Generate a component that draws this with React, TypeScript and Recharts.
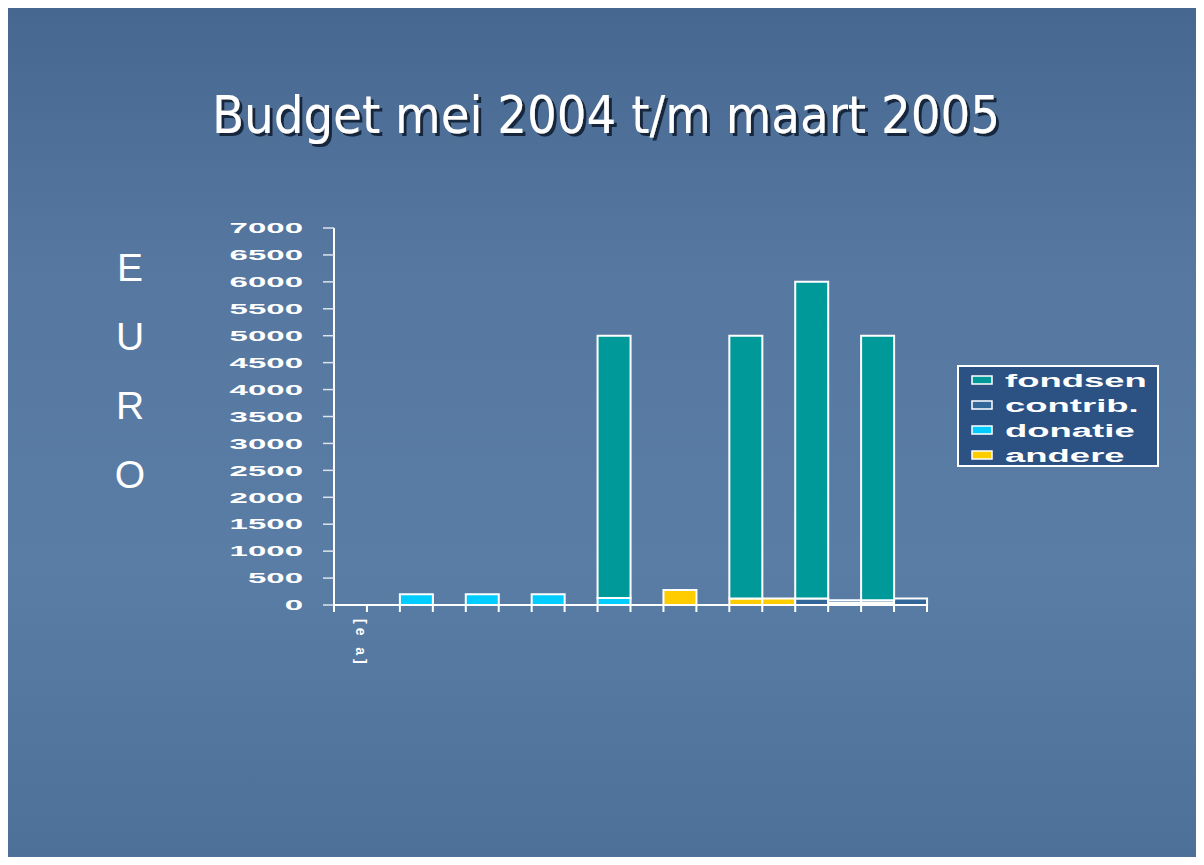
import { BarChart, Bar, XAxis, YAxis } from 'recharts';

// 18 slots along the x axis, only the first one carries a label
const slotLabels = ['[e a]', '', '', '', '', '', '', '', '', '', '', '', '', '', '', '', '', ''];
const fondsen = [0, 0, 0, 0, 0, 0, 0, 0, 4870, 0, 0, 0, 4880, 0, 5880, 0, 4910, 0];
const contrib = [0, 0, 0, 0, 0, 0, 0, 0, 0, 0, 0, 0, 0, 0, 120, 50, 50, 120];
const donatie = [0, 0, 200, 0, 200, 0, 200, 0, 130, 0, 0, 0, 0, 0, 0, 0, 0, 0];
const andere = [0, 0, 0, 0, 0, 0, 0, 0, 0, 0, 280, 0, 120, 120, 0, 40, 40, 0];
const yTicks = [0, 500, 1000, 1500, 2000, 2500, 3000, 3500, 4000, 4500, 5000, 5500, 6000, 6500, 7000];

const legendNames = ['fondsen', 'contrib.', 'donatie', 'andere'];
const legendColors = ['#009999', '#336699', '#00ccff', '#ffcc00'];

const data = slotLabels.map((label, i) => ({
  slot: i,
  label,
  fondsen: fondsen[i],
  contrib: contrib[i],
  donatie: donatie[i],
  andere: andere[i],
}));

const W = 1198;
const H = 859;
const margin = { top: 222, right: 277, bottom: 200, left: 0 };
const yAxisWidth = 328;
const band = (W - margin.left - margin.right - yAxisWidth) / slotLabels.length;

const boldFont = '"Liberation Sans", Arial, sans-serif';

function YTick(props: any) {
  const { x, y, payload } = props;
  return (
    <g transform={`translate(${x - 20},${y}) scale(2.2,1)`}>
      <text textAnchor="end" dominantBaseline="central" fill="#ffffff" fontFamily={boldFont} fontWeight="bold" fontSize={15}>
        {payload.value}
      </text>
    </g>
  );
}

function SlotTick(props: any) {
  const { x, y, payload, index } = props;
  const label = slotLabels[payload.value];
  const left = x - band / 2;
  return (
    <g>
      <line x1={left} y1={y} x2={left} y2={y + 7} stroke="#ffffff" strokeWidth={2} />
      {index === slotLabels.length - 1 && (
        <line x1={x + band / 2} y1={y} x2={x + band / 2} y2={y + 7} stroke="#ffffff" strokeWidth={2} />
      )}
      {label ? (
        <text
          transform={`translate(${x + 11},${y + 14}) rotate(90)`}
          fill="#ffffff"
          fontFamily={boldFont}
          fontWeight="bold"
          fontSize={14}
          letterSpacing={4}
          dominantBaseline="central"
        >
          {label}
        </text>
      ) : null}
    </g>
  );
}

export default function App() {
  return (
    <div
      style={{
        position: 'relative',
        width: W,
        height: H,
        margin: '-2px 0 -8px -2px',
        overflow: 'hidden',
        background: 'linear-gradient(180deg, #466890 0%, #5577a0 30%, #5a7da6 65%, #4d7099 100%)',
      }}
    >
      <div style={{ position: 'absolute', left: 0, top: 0 }}>
        <BarChart width={W} height={H} data={data} margin={margin} barCategoryGap={0}>
          <XAxis
            dataKey="slot"
            type="category"
            height={60}
            axisLine={{ stroke: '#ffffff', strokeWidth: 2 }}
            tickLine={false}
            tickSize={0}
            tickMargin={0}
            interval={0}
            tick={<SlotTick />}
          />
          <YAxis
            width={yAxisWidth}
            domain={[0, 7000]}
            ticks={yTicks}
            interval={0}
            axisLine={{ stroke: '#ffffff', strokeWidth: 2 }}
            tickLine={{ stroke: '#dde4ee', strokeWidth: 1.5 }}
            tickSize={11}
            tickMargin={0}
            tick={<YTick />}
          />
          <Bar dataKey="andere" stackId="a" fill="#ffcc00" stroke="#ffffff" strokeWidth={2} isAnimationActive={false} />
          <Bar dataKey="donatie" stackId="a" fill="#00ccff" stroke="#ffffff" strokeWidth={2} isAnimationActive={false} />
          <Bar dataKey="contrib" stackId="a" fill="#336699" stroke="#ffffff" strokeWidth={2} isAnimationActive={false} />
          <Bar dataKey="fondsen" stackId="a" fill="#009999" stroke="#ffffff" strokeWidth={2} isAnimationActive={false} />
        </BarChart>
      </div>
      <svg width={W} height={H} style={{ position: 'absolute', left: 0, top: 0, pointerEvents: 'none' }}>
        <defs>
          <filter id="titleShadow" x="-5%" y="-20%" width="110%" height="150%">
            <feDropShadow dx={3} dy={3} stdDeviation={0.6} floodColor="#15263d" floodOpacity={1} />
          </filter>
        </defs>
        <text
          x={600}
          y={127}
          fill="#ffffff"
          fontFamily='"DejaVu Sans Condensed", "DejaVu Sans", Verdana, sans-serif'
          fontSize={52}
          textAnchor="middle"
          filter="url(#titleShadow)"
        >
          Budget mei 2004 t/m maart 2005
        </text>
        <g fontFamily={boldFont} fontSize={39} fill="#ffffff" textAnchor="middle">
          {['E', 'U', 'R', 'O'].map((c, i) => (
            <text key={c} x={124} y={275 + i * 69}>{c}</text>
          ))}
        </g>
        <rect x={952} y={360} width={200} height={100} fill="#2c5283" stroke="#ffffff" strokeWidth={2} />
        {legendNames.map((name, i) => (
          <g key={name}>
            <rect x={966} y={370 + i * 25} width={20} height={8} fill={legendColors[i]} stroke="#ffffff" strokeWidth={1.5} />
            <g transform={`translate(999,${374 + i * 25}) scale(1.92,1)`}>
              <text fill="#ffffff" fontFamily={boldFont} fontWeight="bold" fontSize={19} dominantBaseline="central">
                {name}
              </text>
            </g>
          </g>
        ))}
      </svg>
    </div>
  );
}
